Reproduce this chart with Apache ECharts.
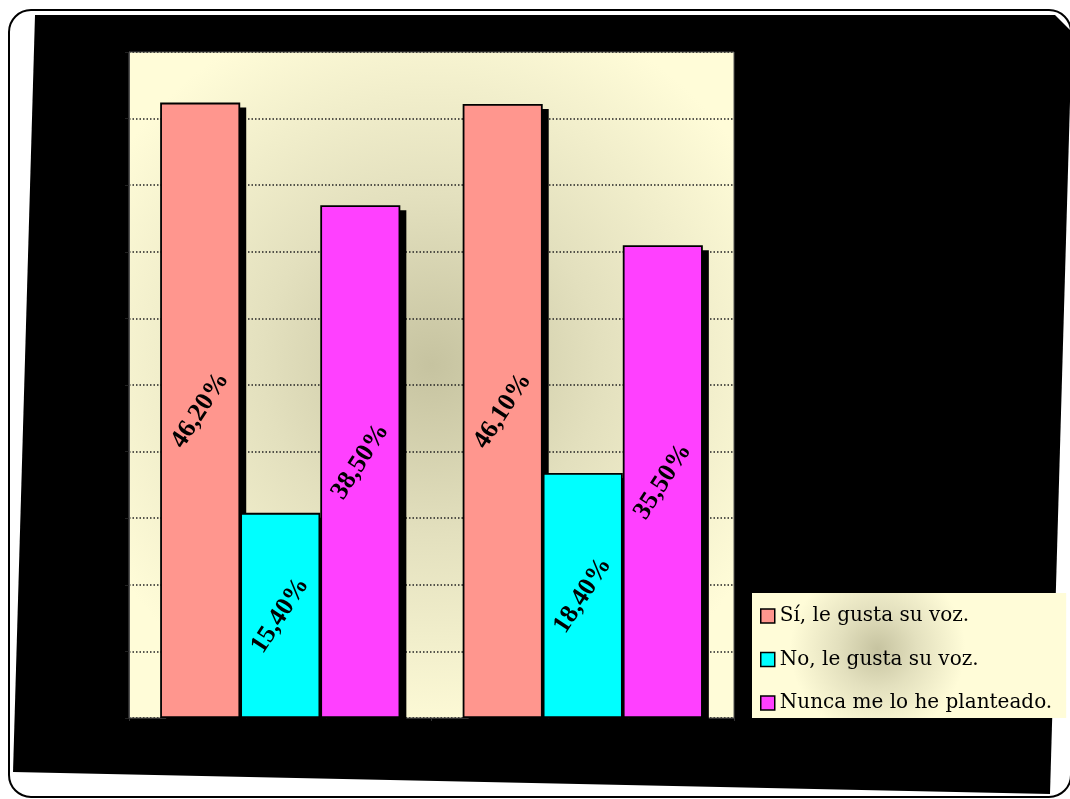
<!DOCTYPE html>
<html>
<head>
<meta charset="utf-8">
<script src="https://cdn.jsdelivr.net/npm/echarts@6/dist/echarts.min.js"></script>
<style>
  html, body { margin: 0; padding: 0; background: #ffffff; }
  #chart { width: 1070px; height: 799px; }
</style>
</head>
<body>
<div id="chart"></div>
<script>
// Two groups of answers, no category captions shown
const categories = ['', ''];
const seriesNames = ['Sí, le gusta su voz.', 'No, le gusta su voz.', 'Nunca me lo he planteado.'];
const siValues = [46.2, 46.1];
const noValues = [15.4, 18.4];
const nuncaValues = [38.5, 35.5];
const seriesColors = ['#ff968e', '#00ffff', '#ff40ff'];
const yMin = 0;
const yMax = 50;
const yStep = 5;

const cream = (cx, cy, r) => ({
  type: 'radial', x: cx, y: cy, r: r,
  colorStops: [
    { offset: 0, color: '#c6c3a0' },
    { offset: 0.45, color: '#e3e0be' },
    { offset: 1, color: '#fffcd8' }
  ]
});

function fmt(v) {
  return v.toFixed(2).replace('.', ',') + '%';
}

const BAR_LAYOUT = { barGap: '0%', barCategoryGap: '20.6%' };

function barSeries(name, data, color) {
  return Object.assign({
    name: name,
    type: 'bar',
    data: data,
    z: 3,
    itemStyle: { color: color, borderColor: '#000', borderWidth: 1.8 },
    label: {
      show: true,
      position: 'inside',
      rotate: 57,
      formatter: p => fmt(p.value),
      fontFamily: 'Liberation Serif',
      fontWeight: 'bold',
      fontSize: 26,
      color: '#000'
    }
  }, BAR_LAYOUT);
}

// Solid drop shadow: the same bars on a grid shifted right and down
function shadowSeries(id, data) {
  return Object.assign({
    id: id,
    type: 'bar',
    data: data,
    xAxisIndex: 1,
    yAxisIndex: 1,
    z: 2,
    silent: true,
    itemStyle: { color: '#000' }
  }, BAR_LAYOUT);
}

const chart = echarts.init(document.getElementById('chart'), null, { renderer: 'canvas' });
chart.setOption({
  animation: false,
  backgroundColor: '#ffffff',
  color: seriesColors,
  graphic: {
    elements: [
      {
        type: 'rect',
        z: -20,
        shape: { x: 9, y: 10, width: 1062, height: 787, r: 22 },
        style: { fill: '#ffffff', stroke: '#000', lineWidth: 2 }
      },
      {
        type: 'polygon',
        z: -10,
        shape: { points: [[35, 15], [1055, 15], [1072, 32], [1050, 794], [13, 772]] },
        style: { fill: '#000' }
      }
    ]
  },
  grid: [
    {
      left: 129, top: 52, right: 336, bottom: 81,
      show: true,
      backgroundColor: cream(0.5, 0.47, 0.62),
      borderColor: '#555',
      borderWidth: 1
    },
    { left: 135, top: 57, right: 330, bottom: 76 }
  ],
  legend: {
    orient: 'vertical',
    left: 752, top: 593,
    padding: [13, 14, 5, 8],
    itemGap: 23.5,
    itemWidth: 14, itemHeight: 14,
    icon: 'rect',
    backgroundColor: cream(0.4, 0.45, 0.7),
    itemStyle: { borderColor: '#000', borderWidth: 1.5 },
    textStyle: {
      fontFamily: 'DejaVu Serif',
      fontSize: 20,
      lineHeight: 20,
      color: '#000'
    },
    data: seriesNames
  },
  xAxis: [
    {
      type: 'category',
      data: categories,
      axisLine: { lineStyle: { color: '#333', width: 1 } },
      axisTick: { show: true, length: 3, lineStyle: { color: '#333' } },
      axisLabel: { show: false }
    },
    { type: 'category', data: categories, gridIndex: 1, show: false }
  ],
  yAxis: [
    {
      type: 'value',
      min: yMin, max: yMax, interval: yStep,
      axisLine: { show: true, lineStyle: { color: '#555' } },
      axisTick: { show: true, length: 4, lineStyle: { color: '#222' } },
      axisLabel: { show: false },
      splitLine: { lineStyle: { color: '#222', width: 1.5, type: [1.5, 2] } }
    },
    { type: 'value', min: yMin, max: yMax, gridIndex: 1, show: false, splitLine: { show: false } }
  ],
  series: [
    shadowSeries('shadow-si', siValues),
    shadowSeries('shadow-no', noValues),
    shadowSeries('shadow-nunca', nuncaValues),
    barSeries(seriesNames[0], siValues, seriesColors[0]),
    barSeries(seriesNames[1], noValues, seriesColors[1]),
    barSeries(seriesNames[2], nuncaValues, seriesColors[2])
  ]
});
</script>
</body>
</html>
